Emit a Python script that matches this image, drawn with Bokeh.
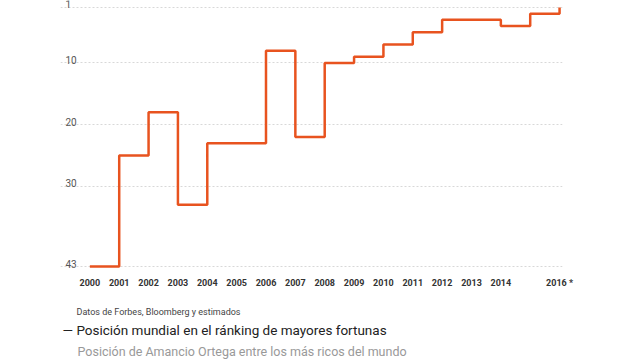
from bokeh.plotting import figure
from bokeh.models import Range1d, FixedTicker, Title
from bokeh.core.properties import value
from bokeh.embed import file_html
from bokeh.resources import INLINE

# ---- data ----
years = [2000, 2001, 2002, 2003, 2004, 2005, 2006, 2007, 2008,
         2009, 2010, 2011, 2012, 2013, 2014, 2015, 2016]
ranks = [43, 25, 18, 33, 23, 23, 8, 22, 10, 9, 7, 5, 3, 3, 4, 2, 1]
y_ticks = [1, 10, 20, 30, 43]
x_label_overrides = {2015: "", 2016: "2016 *"}
source_text = "Datos de Forbes, Bloomberg y estimados"
title_text = "— Posición mundial en el ránking de mayores fortunas"
subtitle_text = "Posición de Amancio Ortega entre los más ricos del mundo"

LINE = "#E8531F"
FONT = "Roboto"

p = figure(width=640, height=360, output_backend="svg", toolbar_location=None,
           x_range=Range1d(1999.0, 2016.1), y_range=Range1d(43.324, -0.135),
           min_border_left=60, min_border_right=78, min_border_top=0,
           min_border_bottom=92)
p.outline_line_color = None
p.background_fill_color = "white"
p.border_fill_color = "white"

p.xgrid.visible = False
p.ygrid.ticker = FixedTicker(ticks=y_ticks)
p.ygrid.grid_line_color = "#d8d8d8"
p.ygrid.grid_line_dash = "2 2"
p.ygrid.grid_line_width = 1

p.yaxis.visible = False

xa = p.xaxis[0]
xa.ticker = FixedTicker(ticks=years)
xa.major_label_overrides = x_label_overrides
xa.axis_line_color = None
xa.major_tick_line_color = None
xa.minor_tick_line_color = None
xa.major_tick_out = 0
xa.major_tick_in = 0
xa.major_label_standoff = 9
xa.major_label_text_font = FONT
xa.major_label_text_font_style = "bold"
xa.major_label_text_font_size = "9px"
xa.major_label_text_color = "#333333"
# blank axis label used only as spacer below the year labels
xa.axis_label = " "
xa.axis_label_text_font_size = "1px"
xa.axis_label_standoff = 10

# y tick labels drawn inside the plot, above their gridlines
p.text(x=[1999.0] * len(y_ticks), y=y_ticks, text=[str(t) for t in y_ticks],
       x_offset=5, y_offset=-3, text_baseline="alphabetic", text_align="left",
       text_font=value(FONT), text_font_size="10px", text_color="#555555")

p.step(x=years, y=ranks, mode="after", line_color=LINE, line_width=2.5)

p.add_layout(Title(text=source_text, align="left", offset=16, standoff=0,
                   text_font=FONT, text_font_size="9px",
                   text_font_style="normal", text_color="#444444"), "below")
p.add_layout(Title(text=title_text, align="left", offset=2, standoff=7,
                   text_font=FONT, text_font_size="13.5px",
                   text_font_style="normal", text_color="#222222"), "below")
p.add_layout(Title(text=subtitle_text, align="left", offset=17, standoff=0,
                   text_font=FONT, text_font_size="12.5px",
                   text_font_style="normal", text_color="#999999"), "below")

open("out.html", "w").write(file_html(p, INLINE))
